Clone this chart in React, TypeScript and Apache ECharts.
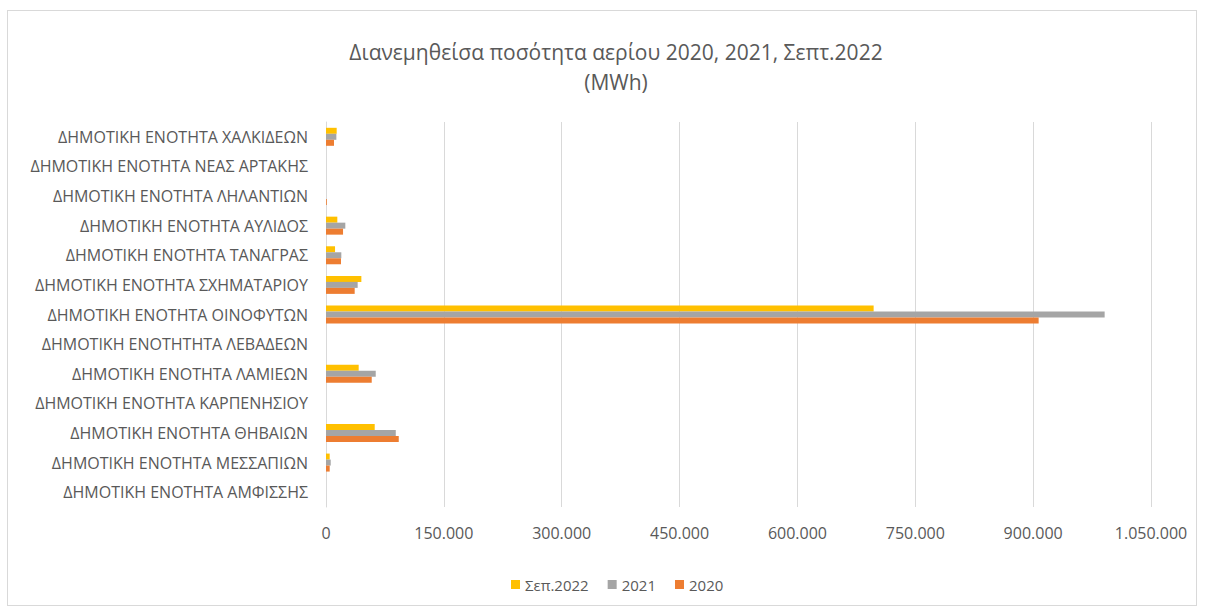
import React, { useEffect, useRef } from "react";
import * as echarts from "echarts";

// Categories from bottom to top (ECharts category y axis starts at the bottom)
const categories = [
  "ΔΗΜΟΤΙΚΗ ΕΝΟΤΗΤΑ ΑΜΦΙΣΣΗΣ",
  "ΔΗΜΟΤΙΚΗ ΕΝΟΤΗΤΑ ΜΕΣΣΑΠΙΩΝ",
  "ΔΗΜΟΤΙΚΗ ΕΝΟΤΗΤΑ ΘΗΒΑΙΩΝ",
  "ΔΗΜΟΤΙΚΗ ΕΝΟΤΗΤΑ ΚΑΡΠΕΝΗΣΙΟΥ",
  "ΔΗΜΟΤΙΚΗ ΕΝΟΤΗΤΑ ΛΑΜΙΕΩΝ",
  "ΔΗΜΟΤΙΚΗ ΕΝΟΤΗΤΗΤΑ ΛΕΒΑΔΕΩΝ",
  "ΔΗΜΟΤΙΚΗ ΕΝΟΤΗΤΑ ΟΙΝΟΦΥΤΩΝ",
  "ΔΗΜΟΤΙΚΗ ΕΝΟΤΗΤΑ ΣΧΗΜΑΤΑΡΙΟΥ",
  "ΔΗΜΟΤΙΚΗ ΕΝΟΤΗΤΑ ΤΑΝΑΓΡΑΣ",
  "ΔΗΜΟΤΙΚΗ ΕΝΟΤΗΤΑ ΑΥΛΙΔΟΣ",
  "ΔΗΜΟΤΙΚΗ ΕΝΟΤΗΤΑ ΛΗΛΑΝΤΙΩΝ",
  "ΔΗΜΟΤΙΚΗ ΕΝΟΤΗΤΑ ΝΕΑΣ ΑΡΤΑΚΗΣ",
  "ΔΗΜΟΤΙΚΗ ΕΝΟΤΗΤΑ ΧΑΛΚΙΔΕΩΝ",
];

const valuesSep2022 = [0, 4700, 62000, 0, 41600, 0, 697000, 45000, 11500, 14400, 0, 0, 13600];
const values2021 = [0, 6000, 88800, 0, 63300, 0, 991000, 40300, 19500, 24600, 0, 0, 13200];
const values2020 = [0, 4700, 92600, 0, 58200, 0, 907000, 36500, 19100, 21700, 1000, 0, 10200];

// In a horizontal ECharts bar chart the first series sits at the top of each band
const seriesNames = ["Σεπ.2022", "2021", "2020"];
const legendOrder = ["Σεπ.2022", "2021", "2020"];

const titleText = "Διανεμηθείσα ποσότητα αερίου 2020, 2021, Σεπτ.2022\n(MWh)";

const FONT = "'Open Sans', sans-serif";
const TEXT = "#595959";

function fmt(v: number): string {
  return String(Math.round(v)).replace(/\B(?=(\d{3})+(?!\d))/g, ".");
}

export default function App() {
  const ref = useRef<HTMLDivElement>(null);

  useEffect(() => {
    if (!ref.current) return;
    const chart = echarts.init(ref.current, null, { renderer: "svg" });
    const colors = ["#FFC000", "#A5A5A5", "#ED7D31"];
    const data = [valuesSep2022, values2021, values2020];
    chart.setOption({
      animation: false,
      backgroundColor: "#ffffff",
      title: {
        text: titleText,
        left: 603,
        textAlign: "center",
        top: 21,
        textStyle: {
          fontFamily: FONT,
          fontSize: 21,
          fontWeight: "normal",
          color: TEXT,
          lineHeight: 30,
        },
      },
      legend: {
        data: legendOrder,
        left: 498,
        top: 561,
        itemWidth: 9,
        itemHeight: 9,
        itemGap: 19,
        icon: "rect",
        textStyle: { fontFamily: FONT, fontSize: 15, color: TEXT },
      },
      grid: {
        left: 318,
        right: 45,
        top: 111,
        bottom: 98,
        containLabel: false,
      },
      xAxis: {
        type: "value",
        min: 0,
        max: 1050000,
        interval: 150000,
        axisLine: { show: false },
        axisTick: { show: false },
        splitLine: { show: true, lineStyle: { color: "#d9d9d9", width: 1 } },
        axisLabel: {
          formatter: (v: number) => fmt(v),
          fontFamily: FONT,
          fontSize: 16,
          color: TEXT,
          margin: 18,
        },
      },
      yAxis: {
        type: "category",
        data: categories,
        axisLine: { show: true, lineStyle: { color: "#d9d9d9", width: 1 } },
        axisTick: { show: false },
        splitLine: { show: false },
        axisLabel: {
          fontFamily: FONT,
          fontSize: 16,
          color: TEXT,
          margin: 18,
        },
      },
      series: seriesNames.map((name, i) => ({
        name,
        type: "bar",
        data: data[i],
        barWidth: 6,
        barGap: "0%",
        itemStyle: { color: colors[i] },
      })),
    });
    return () => chart.dispose();
  }, []);

  return (
    <div
      style={{
        position: "absolute",
        left: 7,
        top: 10,
        width: 1190,
        height: 596,
        boxSizing: "border-box",
        border: "1px solid #d9d9d9",
        background: "#fff",
      }}
    >
      <div ref={ref} style={{ width: 1188, height: 594 }} />
    </div>
  );
}
